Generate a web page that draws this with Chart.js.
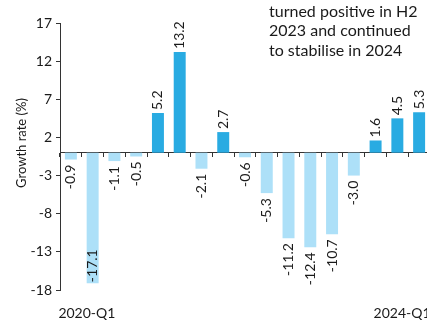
<!DOCTYPE html>
<html>
<head>
<meta charset="utf-8">
<script src="https://cdn.jsdelivr.net/npm/chart.js@4.4.0/dist/chart.umd.min.js"></script>
<style>
  html, body { margin: 0; padding: 0; background: #ffffff; overflow: hidden; }
  #wrap { position: relative; width: 430px; height: 324px; }
</style>
</head>
<body>
<div id="wrap"><canvas id="c"></canvas></div>
<script>
const categories = ['2020-Q1','2020-Q2','2020-Q3','2020-Q4','2021-Q1','2021-Q2','2021-Q3','2021-Q4',
  '2022-Q1','2022-Q2','2022-Q3','2022-Q4','2023-Q1','2023-Q2','2023-Q3','2023-Q4','2024-Q1'];
const growthRate = [-0.9, -17.1, -1.1, -0.5, 5.2, 13.2, -2.1, 2.7, -0.6, -5.3, -11.2, -12.4, -10.7, -3.0, 1.6, 4.5, 5.3];
const yTicks = [17, 12, 7, 2, -3, -8, -13, -18];
const xAxisLabels = ['2020-Q1', '2024-Q1'];
const yTitle = 'Growth rate (%)';
const annotationLines = ['turned positive in H2', '2023 and continued', 'to stabilise in 2024'];

const POS_COLOR = '#29ABE2';
const NEG_COLOR = '#ADE0F8';
const TEXT = '#1a1a1a';
const FONT = 'Lato, "Noto Sans", sans-serif';

const labelPlugin = {
  id: 'barLabels',
  afterDatasetsDraw(chart) {
    const ctx = chart.ctx;
    const meta = chart.getDatasetMeta(0);
    ctx.save();
    ctx.font = '14px ' + FONT;
    ctx.fillStyle = TEXT;
    ctx.textBaseline = 'middle';
    meta.data.forEach((bar, i) => {
      const v = growthRate[i];
      const txt = v.toFixed(1);
      ctx.save();
      if (v >= 0) {
        ctx.translate(bar.x, bar.y - 3);
        ctx.rotate(-Math.PI / 2);
        ctx.textAlign = 'left';
      } else if (v < -15) {
        ctx.translate(bar.x, bar.y - 1);
        ctx.rotate(-Math.PI / 2);
        ctx.textAlign = 'left';
      } else {
        ctx.translate(bar.x, bar.y + 5);
        ctx.rotate(-Math.PI / 2);
        ctx.textAlign = 'right';
      }
      ctx.fillText(txt, 0, 0);
      ctx.restore();
    });
    ctx.restore();
  },
  afterDraw(chart) {
    const ctx = chart.ctx;
    const x = chart.scales.x;
    ctx.save();
    ctx.fillStyle = TEXT;
    // x labels
    ctx.font = '14px ' + FONT;
    ctx.textAlign = 'center';
    ctx.textBaseline = 'alphabetic';
    ctx.fillText(xAxisLabels[0], x.getPixelForValue(0) + 16, 318);
    ctx.fillText(xAxisLabels[1], x.getPixelForValue(categories.length - 1) - 17, 318);
    // y title
    ctx.save();
    ctx.font = '13px ' + FONT;
    ctx.translate(22, 143);
    ctx.rotate(-Math.PI / 2);
    ctx.textAlign = 'center';
    ctx.textBaseline = 'middle';
    ctx.fillText(yTitle, 0, 0);
    ctx.restore();
    // annotation
    ctx.font = '16px ' + FONT;
    ctx.textAlign = 'left';
    ctx.textBaseline = 'alphabetic';
    const baselines = [16.5, 36, 55.5];
    annotationLines.forEach((t, i) => ctx.fillText(t, 269, baselines[i]));
    ctx.restore();
  }
};

new Chart(document.getElementById('c'), {
  type: 'bar',
  data: {
    labels: categories,
    datasets: [{
      data: growthRate,
      backgroundColor: growthRate.map(v => v >= 0 ? POS_COLOR : NEG_COLOR),
      borderWidth: 0,
      barPercentage: 0.55,
      categoryPercentage: 1.0
    }]
  },
  options: {
    responsive: true,
    maintainAspectRatio: false,
    animation: false,
    devicePixelRatio: 1,
    layout: { padding: { top: 23, bottom: 34, left: 0, right: 0 } },
    plugins: { legend: { display: false }, tooltip: { enabled: false }, title: { display: false } },
    scales: {
      x: {
        type: 'category',
        position: { y: 0 },
        offset: true,
        grid: { display: true, drawOnChartArea: false, drawTicks: true, tickLength: 4, offset: true, color: '#333' },
        border: { display: true, color: '#333', width: 1 },
        ticks: { display: false }
      },
      y: {
        min: -18,
        max: 17,
        afterBuildTicks(scale) { scale.ticks = yTicks.map(v => ({ value: v })); },
        afterFit(scale) { scale.width = 60; },
        grid: { display: true, drawOnChartArea: false, drawTicks: true, tickLength: 4, color: '#333' },
        border: { display: true, color: '#333', width: 1 },
        ticks: { font: { family: FONT, size: 14 }, color: TEXT, padding: 4 }
      }
    }
  },
  plugins: [labelPlugin]
});
</script>
</body>
</html>
